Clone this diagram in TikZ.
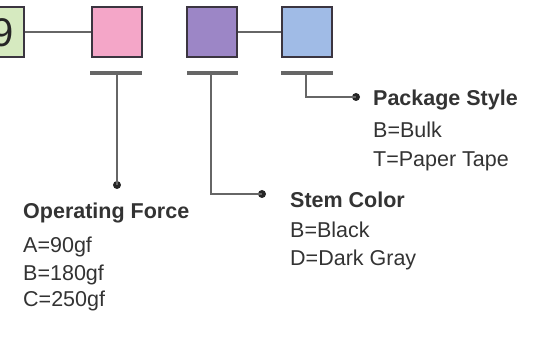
\documentclass[tikz,border=0pt]{standalone}
\usepackage{fontspec}
\setmainfont{Liberation Sans}
\definecolor{pinkf}{HTML}{F4A6C8}
\definecolor{purplef}{HTML}{9C86C6}
\definecolor{bluef}{HTML}{A0BBE6}
\definecolor{greenf}{HTML}{D6EAC0}
\definecolor{boxline}{HTML}{3B3540}
\definecolor{wire}{HTML}{666666}
\definecolor{txt}{HTML}{333333}
\tikzset{
  keybox/.style={draw=boxline, line width=2pt, minimum width=50pt, minimum height=50pt, inner sep=0pt},
  bar/.style={draw=wire, line width=3.2pt},
  wireline/.style={draw=wire, line width=2.6pt},
  head/.style={anchor=base west, font=\fontsize{21.5}{24}\selectfont\bfseries, text=txt, inner sep=0pt},
  item/.style={anchor=base west, font=\fontsize{21.5}{24}\selectfont, text=txt, inner sep=0pt},
  dotc/.style={circle, fill=black!85, inner sep=0pt, minimum size=8pt}
}
\begin{document}
\begin{tikzpicture}[x=1pt,y=-1pt]
\useasboundingbox (0,0) rectangle (539,339);
% boxes
\node[keybox, fill=greenf] (g) at (-1,32) {};
\node[font=\fontsize{40}{40}\selectfont, text=black!85, anchor=east, inner sep=0pt] (nine) at (14,33) {9};
\node[keybox, fill=pinkf] (p) at (117,32) {};
\node[keybox, fill=purplef] (u) at (212,32) {};
\node[keybox, fill=bluef] (b) at (307,32) {};
\draw[wireline] (g.east) -- (p.west);
\draw[wireline] (u.east) -- (b.west);
% bars
\coordinate (pl) at (90,73); \coordinate (pr) at (142,73);
\coordinate (ul) at (187,73); \coordinate (ur) at (238,73);
\coordinate (bl) at (281,73); \coordinate (br) at (333,73);
\draw[bar] (pl) -- (pr);
\draw[bar] (ul) -- (ur);
\draw[bar] (bl) -- (br);
% leaders
\coordinate (pt) at (117,73);
\coordinate (ut) at (211,73);
\coordinate (bt) at (306,73);
\node[dotc] (pd) at (117,185) {};
\node[dotc] (ud) at (262,194) {};
\node[dotc] (bd) at (356,97) {};
\draw[wireline] (pt) -- (pd.center);
\draw[wireline] (ut) |- (ud.center);
\draw[wireline] (bt) |- (bd.center);
% texts
\node[head] (h1) at (23,219) {Operating Force};
\node[item] (a1) at (23,253) {A=90gf};
\node[item] (a2) at (23,281) {B=180gf};
\node[item] (a3) at (23,307) {C=250gf};
\node[head] (h2) at (290,208) {Stem Color};
\node[item] (s1) at (290,238) {B=Black};
\node[item] (s2) at (290,266) {D=Dark Gray};
\node[head] (h3) at (373,106) {Package Style};
\node[item] (k1) at (373,138) {B=Bulk};
\node[item] (k2) at (373,167) {T=Paper Tape};
\end{tikzpicture}
\end{document}
